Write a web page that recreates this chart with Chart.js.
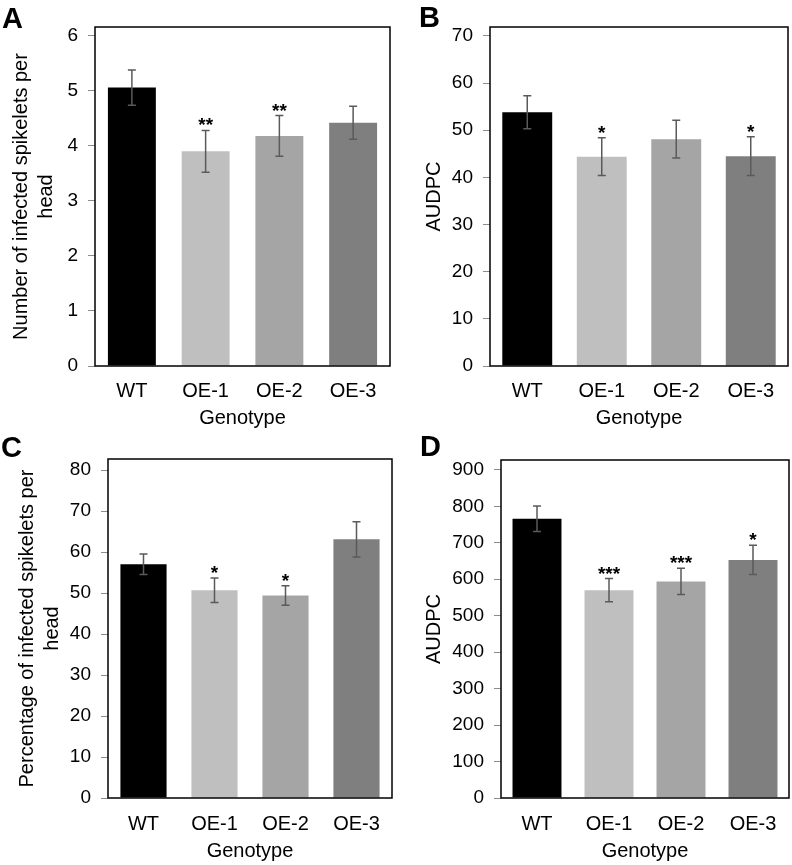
<!DOCTYPE html>
<html>
<head>
<meta charset="utf-8">
<script src="https://cdn.jsdelivr.net/npm/chart.js@4.4.0/dist/chart.umd.min.js"></script>
<style>
  body { margin: 0; background: #fff; width: 792px; height: 865px; position: relative; overflow: hidden;
         font-family: "Liberation Sans", Arial, sans-serif; }
  canvas { position: absolute; }
  .tag { position: absolute; font-weight: bold; font-size: 29px; line-height: 1; color: #000; }
</style>
</head>
<body>
<canvas id="chartA" width="396" height="432" style="left:0;top:0"></canvas>
<canvas id="chartB" width="396" height="432" style="left:396px;top:0"></canvas>
<canvas id="chartC" width="396" height="433" style="left:0;top:432px"></canvas>
<canvas id="chartD" width="396" height="433" style="left:396px;top:432px"></canvas>
<div class="tag" style="left:2px;top:4px">A</div>
<div class="tag" style="left:419px;top:3px">B</div>
<div class="tag" style="left:1px;top:433px">C</div>
<div class="tag" style="left:420px;top:432px">D</div>
<script>
const genotypes = ['WT', 'OE-1', 'OE-2', 'OE-3'];
const barColors = ['#000000', '#bfbfbf', '#a5a5a5', '#7f7f7f'];

// A: number of infected spikelets per head
const spikeletsMean = [5.06, 3.90, 4.18, 4.42];
const spikeletsErr = [0.32, 0.38, 0.37, 0.30];
const spikeletsSig = ['', '**', '**', ''];

// B: AUDPC (number)
const audpcNumMean = [53.8, 44.4, 48.1, 44.5];
const audpcNumErr = [3.5, 4.0, 4.0, 4.1];
const audpcNumSig = ['', '*', '', '*'];

// C: percentage of infected spikelets per head
const percentMean = [57.0, 50.7, 49.4, 63.1];
const percentErr = [2.5, 3.0, 2.4, 4.3];
const percentSig = ['', '*', '*', ''];

// D: AUDPC (percentage)
const audpcPctMean = [766, 570, 594, 653];
const audpcPctErr = [35, 32, 36, 40];
const audpcPctSig = ['', '***', '***', '*'];

Chart.defaults.font.family = '"Liberation Sans", Arial, sans-serif';
Chart.defaults.color = '#000';

// error bars, significance stars and the box round the plot
const panelExtras = {
  id: 'panelExtras',
  afterDatasetsDraw(chart) {
    const { ctx, chartArea: a, scales: { y } } = chart;
    const ds = chart.data.datasets[0];
    const meta = chart.getDatasetMeta(0);
    ctx.save();
    ctx.strokeStyle = '#5a5a5a';
    ctx.lineWidth = 1.5;
    ctx.fillStyle = '#000';
    ctx.font = 'bold 19px "Liberation Sans", Arial, sans-serif';
    ctx.textAlign = 'center';
    ctx.textBaseline = 'alphabetic';
    meta.data.forEach((bar, i) => {
      const v = ds.data[i], e = ds.errors[i];
      const hi = y.getPixelForValue(v + e), lo = y.getPixelForValue(v - e);
      ctx.beginPath();
      ctx.moveTo(bar.x, hi); ctx.lineTo(bar.x, lo);
      ctx.moveTo(bar.x - 4, hi); ctx.lineTo(bar.x + 4, hi);
      ctx.moveTo(bar.x - 4, lo); ctx.lineTo(bar.x + 4, lo);
      ctx.stroke();
      if (ds.sig[i]) ctx.fillText(ds.sig[i], bar.x, hi + 1);
    });
    ctx.strokeStyle = '#000';
    ctx.lineWidth = 1.5;
    ctx.strokeRect(a.left, a.top, a.width, a.height);
    ctx.restore();
  }
};

function makeChart(id, p) {
  new Chart(document.getElementById(id), {
    type: 'bar',
    data: {
      labels: genotypes,
      datasets: [{
        data: p.mean,
        errors: p.err,
        sig: p.sig,
        backgroundColor: barColors,
        borderWidth: 0,
        barPercentage: p.barPct,
        categoryPercentage: 1
      }]
    },
    options: {
      responsive: false,
      animation: false,
      devicePixelRatio: 1,
      layout: { padding: { top: p.padTop, right: p.padRight, left: 0, bottom: 0 } },
      plugins: { legend: { display: false }, tooltip: { enabled: false } },
      scales: {
        x: {
          grid: { display: false },
          border: { display: false },
          ticks: { font: { size: 20 }, padding: p.xPad, color: '#000' },
          title: { display: true, text: 'Genotype', font: { size: 20 }, color: '#000', padding: { top: 0, bottom: 2 } },
          afterFit(s) { s.height = p.xHeight; }
        },
        y: {
          min: 0,
          max: p.yMax,
          grid: { drawOnChartArea: false, tickLength: 7, color: '#8c8c8c', lineWidth: 1 },
          border: { display: false },
          ticks: { stepSize: p.step, includeBounds: false, padding: 10, font: { size: 19 }, color: '#000' },
          title: { display: true, text: p.yTitle, font: { size: 20, lineHeight: 1.25 }, color: '#000', padding: { top: p.titlePad } },
          afterFit(s) { s.width = p.yWidth; }
        }
      }
    },
    plugins: [panelExtras]
  });
}

makeChart('chartA', {
  mean: spikeletsMean, err: spikeletsErr, sig: spikeletsSig,
  yTitle: ['Number of infected spikelets per', 'head'],
  yMax: 6.16, step: 1, yWidth: 95, padTop: 27, padRight: 6, xHeight: 66, xPad: 5, titlePad: 9, barPct: 0.65
});
makeChart('chartB', {
  mean: audpcNumMean, err: audpcNumErr, sig: audpcNumSig,
  yTitle: 'AUDPC',
  yMax: 71.9, step: 10, yWidth: 94, padTop: 27, padRight: 4, xHeight: 66, xPad: 5, titlePad: 26, barPct: 0.67
});
makeChart('chartC', {
  mean: percentMean, err: percentErr, sig: percentSig,
  yTitle: ['Percentage of infected spikelets per', 'head'],
  yMax: 82.7, step: 10, yWidth: 108, padTop: 27, padRight: 4, xHeight: 67, xPad: 6, titlePad: 15, barPct: 0.65
});
makeChart('chartD', {
  mean: audpcPctMean, err: audpcPctErr, sig: audpcPctSig,
  yTitle: 'AUDPC',
  yMax: 927, step: 100, yWidth: 105, padTop: 28, padRight: 3, xHeight: 67, xPad: 6, titlePad: 26, barPct: 0.68
});
</script>
</body>
</html>
